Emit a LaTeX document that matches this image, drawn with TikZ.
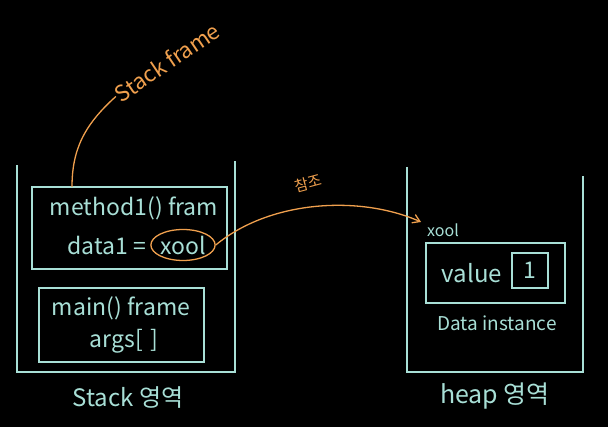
\documentclass[tikz,border=0pt]{standalone}
\usepackage{fontspec}
\setmainfont{Noto Sans CJK KR}
\definecolor{chalkmint}{HTML}{A8DFD6}
\definecolor{chalkorange}{HTML}{F0A04E}
\usepackage{tikz}
\usetikzlibrary{arrows.meta, positioning, shapes.geometric}

\begin{document}
\begin{tikzpicture}[x=1pt, y=-1pt,
  frm/.style={draw=chalkmint, line width=1.3pt, inner sep=0pt},
  txt/.style={text=chalkmint, font=\fontsize{23}{26}\selectfont, inner sep=1pt},
  note/.style={text=chalkorange, inner sep=1pt},
  wall/.style={draw=chalkmint, line width=1.3pt},
  ref/.style={draw=chalkorange, line width=1.3pt}
]
  % Background
  \fill[black] (0,0) rectangle (608,427);

  % Stack
  \draw[wall] (17,165) -- (17,372) -- (235,372) -- (235,161);
  \node[frm, minimum width=195pt, minimum height=82pt] (m1) at (129.5,228) {};
  \node[txt] (m1t) at (134,208) {method1() fram};
  \node[txt, draw=chalkorange, line width=1.3pt, ellipse, inner sep=0pt,
        minimum width=60pt, minimum height=31pt] (xool) at (183,245) {xool};
  \node[txt, left=3pt of xool] (d1) {data1 =};
  \node[frm, minimum width=165pt, minimum height=74pt] (mn) at (121.5,325) {};
  \node[txt] (mnt) at (121,308) {main() frame};
  \node[txt] (args) at (124,341) {args[\,\,]};
  \node[txt, font=\fontsize{24}{27}\selectfont] (stk) at (128,398) {Stack 영역};

  % Heap
  \draw[wall] (407,167) -- (407,372) -- (583,372) -- (583,176);
  \node[txt, font=\fontsize{16}{18}\selectfont] (xref) at (443,230) {xool};
  \node[frm, minimum width=139pt, minimum height=60pt] (dat) at (495.5,273) {};
  \node[txt, font=\fontsize{24}{27}\selectfont] (val) at (472,273) {value};
  \node[frm, txt, minimum width=36pt, minimum height=35pt] (one) at (530,270.5) {1};
  \node[txt, font=\fontsize{19}{22}\selectfont] (inst) at (497,323) {Data instance};
  \node[txt, font=\fontsize{25}{28}\selectfont] (hp) at (495,396) {heap 영역};

  % Notes
  \node[note, font=\fontsize{22}{25}\selectfont, rotate=34] (sf) at (167,62) {Stack frame};
  \node[note, font=\fontsize{15}{17}\selectfont, rotate=15] (cj) at (308,183) {참조};
  \coordinate (sfbase) at (72,187);
  \coordinate (hit) at (421,222);

  % Arrows
  \draw[ref] (sfbase) .. controls (72,150) and (84,125) .. (sf.west);
  \draw[ref, -{Straight Barb[length=7pt, width=9pt]}] (xool.east)
    .. controls (270,200) and (360,195) .. (hit);
\end{tikzpicture}
\end{document}
